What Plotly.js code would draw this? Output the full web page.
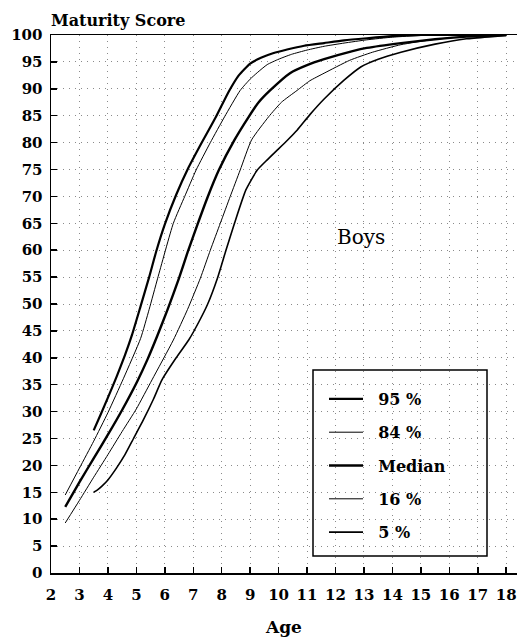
<!DOCTYPE html>
<html>
<head>
<meta charset="utf-8">
<script src="https://cdn.plot.ly/plotly-3.0.1.min.js"></script>
<style>html,body{margin:0;padding:0;background:#fff;}#chart{width:517px;height:637px;}</style>
</head>
<body>
<div id="chart"></div>
<script>
// ---- Data ----
const seriesNames = ["95 %", "84 %", "Median", "16 %", "5 %"];

const age95 = [3.5, 3.75, 4.0, 4.3, 4.6, 4.85, 5.15, 5.45, 5.7, 6.0, 6.4, 6.8, 7.3, 7.8, 8.25, 8.6, 9.0, 9.4, 9.8, 10.3, 10.9, 11.6, 12.3, 13.1, 14.0, 15.0, 16.0, 17.0, 18.0];
const score95 = [26.5, 29.5, 32.6, 36.4, 40.5, 44.3, 49.6, 55.0, 59.8, 64.8, 70.3, 75.0, 80.0, 84.8, 89.5, 92.5, 94.7, 95.8, 96.6, 97.3, 98.0, 98.5, 99.0, 99.4, 99.8, 100, 100, 100, 100];

const age84 = [2.5, 3.0, 3.5, 4.0, 4.55, 5.15, 5.45, 5.75, 6.3, 6.7, 7.1, 7.6, 8.1, 8.65, 9.0, 9.25, 9.6, 10.0, 10.45, 11.0, 11.6, 12.3, 13.1, 14.0, 15.0, 16.0, 17.0, 18.0];
const score84 = [14.5, 19.5, 24.5, 29.8, 36.2, 43.6, 49.0, 54.8, 65.0, 70.0, 74.9, 80.0, 84.8, 89.7, 91.8, 93.0, 94.5, 95.5, 96.4, 97.2, 97.9, 98.5, 99.1, 99.6, 99.9, 100, 100, 100];

const ageMed = [2.5, 3.0, 3.5, 4.0, 4.5, 5.03, 5.4, 5.73, 6.1, 6.5, 6.8, 7.15, 7.5, 7.9, 8.45, 8.95, 9.3, 9.7, 10.4, 11.0, 11.6, 12.6, 13.1, 14.3, 15.5, 16.6, 17.5, 18.0];
const scoreMed = [12.3, 16.9, 21.3, 25.7, 30.3, 35.6, 39.8, 44.0, 49.0, 54.8, 59.6, 64.8, 69.8, 74.9, 80.5, 84.8, 87.5, 89.7, 92.9, 94.4, 95.5, 97.0, 97.6, 98.5, 99.2, 99.7, 99.9, 100];

const age16 = [2.5, 3.0, 3.5, 4.0, 4.5, 5.0, 5.55, 6.3, 6.8, 7.25, 7.6, 7.95, 8.3, 8.65, 9.05, 9.65, 10.1, 10.65, 11.1, 11.6, 12.5, 13.3, 14.3, 15.5, 16.6, 17.5, 18.0];
const score16 = [9.3, 13.5, 17.8, 22.0, 26.3, 30.5, 35.9, 43.3, 49.0, 54.8, 60.0, 65.0, 70.0, 74.9, 80.5, 84.8, 87.5, 89.7, 91.5, 92.9, 95.3, 96.8, 98.2, 99.2, 99.7, 99.9, 100];

const age5 = [3.5, 3.6, 3.8, 4.0, 4.3, 4.6, 4.9, 5.25, 5.6, 5.9, 6.4, 6.84, 7.2, 7.5, 7.85, 8.15, 8.45, 8.85, 9.25, 9.6, 9.95, 10.3, 10.65, 11.1, 11.6, 12.3, 12.9, 13.5, 14.3, 15.5, 16.6, 17.5, 18.0];
const score5 = [15.0, 15.3, 16.2, 17.3, 19.5, 22.0, 25.0, 28.5, 32.3, 35.9, 40.0, 43.3, 46.7, 49.9, 54.8, 60.0, 65.0, 71.2, 74.9, 76.8, 78.6, 80.4, 82.3, 85.2, 88.1, 91.6, 94.1, 95.5, 96.8, 98.3, 99.3, 99.7, 99.9];

const xTicks = [2, 3, 4, 5, 6, 7, 8, 9, 10, 11, 12, 13, 14, 15, 16, 17, 18];
const yTicks = [0, 5, 10, 15, 20, 25, 30, 35, 40, 45, 50, 55, 60, 65, 70, 75, 80, 85, 90, 95, 100];

const ageSeries = [age95, age84, ageMed, age16, age5];
const scoreSeries = [score95, score84, scoreMed, score16, score5];
const lineWidths = [2.2, 1, 2.4, 1, 1.6];

const FONT = "DejaVu Serif, serif";
const NB = "\u00a0\u00a0";

const traces = seriesNames.map((name, i) => ({
  x: ageSeries[i],
  y: scoreSeries[i],
  name: NB + "<b>" + name + "</b>",
  type: "scatter",
  mode: "lines",
  legendgroup: "g" + i,
  line: {color: "#000", width: lineWidths[i], shape: "spline", smoothing: 0.5}
}));

const plotL = 51, plotR = 517, plotT = 35, plotB = 573;
const pw = plotR - plotL, ph = plotB - plotT;
const px2paperX = p => (p - plotL) / pw;
const py2paperY = p => (plotB - p) / ph;

const layout = {
  width: 517, height: 637,
  margin: {l: plotL, r: 517 - plotR, t: plotT, b: 637 - plotB, pad: 0},
  paper_bgcolor: "#fff", plot_bgcolor: "#fff",
  font: {family: FONT, color: "#000", size: 15},
  title: {
    text: "<b>Maturity Score</b>",
    font: {family: FONT, size: 16, color: "#000"},
    xref: "paper", x: 0, xanchor: "left",
    yref: "container", y: 1 - 20.5 / 637, yanchor: "middle"
  },
  xaxis: {
    range: [2, 2 + pw / 28.45],
    tickmode: "array", tickvals: xTicks, ticktext: xTicks.map(v => "<b>" + v + "</b>"),
    ticks: "inside", ticklen: 6, tickwidth: 1.5, tickcolor: "#000",
    showline: true, linecolor: "#000", linewidth: 1.5, mirror: true,
    showgrid: true, gridcolor: "#8a8a8a", griddash: "1px,5px", gridwidth: 1,
    zeroline: false,
    ticklabelstandoff: 7,
    tickfont: {family: FONT, size: 15, color: "#000"},
    title: {text: "<b>Age</b>", font: {family: FONT, size: 17, color: "#000"}, standoff: 20}
  },
  yaxis: {
    range: [0, 100],
    tickmode: "array", tickvals: yTicks, ticktext: yTicks.map(v => "<b>" + v + "</b>"),
    ticks: "inside", ticklen: 6, tickwidth: 1.5, tickcolor: "#000",
    showline: true, linecolor: "#000", linewidth: 1.5, mirror: false,
    showgrid: true, gridcolor: "#8a8a8a", griddash: "1px,5px", gridwidth: 1,
    zeroline: false,
    ticklabelstandoff: 4,
    tickfont: {family: FONT, size: 15, color: "#000"}
  },
  showlegend: true,
  legend: {
    x: px2paperX(324), xanchor: "left",
    y: py2paperY(382), yanchor: "top",
    bgcolor: "rgba(0,0,0,0)", borderwidth: 0,
    traceorder: "grouped", tracegroupgap: 9.5,
    itemwidth: 34,
    font: {family: FONT, size: 16, color: "#000"}
  },
  shapes: [{
    type: "rect", xref: "paper", yref: "paper",
    x0: px2paperX(313), x1: px2paperX(487), y0: py2paperY(556), y1: py2paperY(370),
    line: {color: "#000", width: 1.5}, fillcolor: "rgba(0,0,0,0)", layer: "above"
  }],
  annotations: [{
    text: "Boys", x: 12.88, y: 62.5, xref: "x", yref: "y",
    showarrow: false, font: {family: FONT, size: 20, color: "#000"}
  }]
};

Plotly.newPlot("chart", traces, layout, {displayModeBar: false, staticPlot: true});
</script>
</body>
</html>
